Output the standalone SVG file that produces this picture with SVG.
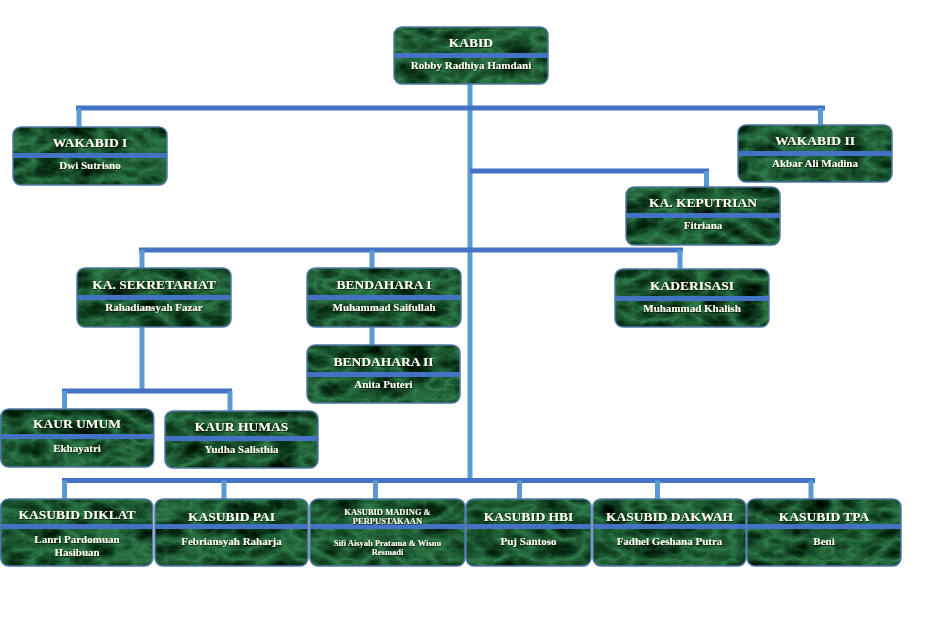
<svg xmlns="http://www.w3.org/2000/svg" width="952" height="639" viewBox="0 0 952 639">
<style>
.box{filter:url(#marble);}
.edge{fill:none;stroke:#4f78a8;stroke-width:1.5;}
.band{fill:#4472c4;}
.t{font-family:"Liberation Serif","Times New Roman",serif;font-weight:bold;fill:#fffff2;text-anchor:middle;filter:url(#sh);}
.ti{font-size:13.5px;}
.nm{font-size:11px;}
.sm{font-size:8.5px;}
.h{stroke:#4472c4;stroke-width:5;fill:none;}
.v{stroke:#5b9bd5;stroke-width:5;fill:none;}
</style>
<defs>
<filter id="marble" x="0" y="0" width="100%" height="100%" color-interpolation-filters="sRGB">
<feTurbulence type="turbulence" baseFrequency="0.03 0.05" numOctaves="4" seed="11" result="n"/>
<feColorMatrix in="n" type="matrix" values="-0.3 0 0 0 0.2  -0.6 0 0 0 0.52  -0.4 0 0 0 0.31  0 0 0 0 1" result="c"/>
<feComposite in="c" in2="SourceGraphic" operator="in"/>
</filter>
<filter id="sh" x="-10%" y="-30%" width="120%" height="160%">
<feDropShadow dx="0.6" dy="0.8" stdDeviation="0.4" flood-color="#000" flood-opacity="0.8"/>
</filter>
</defs>
<rect width="952" height="639" fill="#ffffff"/>

<g id="connectors">
<line class="v" x1="470" y1="84" x2="470" y2="483"/>
<line class="h" x1="76" y1="108" x2="825" y2="108"/>
<line class="v" x1="79" y1="108" x2="79" y2="127"/>
<line class="v" x1="820.5" y1="108" x2="820.5" y2="125"/>
<line class="h" x1="470" y1="171" x2="709" y2="171"/>
<line class="v" x1="706.5" y1="171" x2="706.5" y2="187"/>
<line class="h" x1="139" y1="250" x2="683" y2="250"/>
<line class="v" x1="142" y1="250" x2="142" y2="268"/>
<line class="v" x1="372" y1="250" x2="372" y2="268"/>
<line class="v" x1="680" y1="250" x2="680" y2="269"/>
<line class="v" x1="372" y1="327" x2="372" y2="345"/>
<line class="v" x1="142" y1="327" x2="142" y2="391"/>
<line class="h" x1="62" y1="391" x2="232" y2="391"/>
<line class="v" x1="64.5" y1="391" x2="64.5" y2="409"/>
<line class="v" x1="230" y1="391" x2="230" y2="411"/>
<line class="h" x1="62" y1="480.5" x2="815" y2="480.5"/>
<line class="v" x1="64.5" y1="480.5" x2="64.5" y2="499"/>
<line class="v" x1="224" y1="480.5" x2="224" y2="499"/>
<line class="v" x1="375.5" y1="480.5" x2="375.5" y2="499"/>
<line class="v" x1="519.5" y1="480.5" x2="519.5" y2="499"/>
<line class="v" x1="657.5" y1="480.5" x2="657.5" y2="499"/>
<line class="v" x1="811" y1="480.5" x2="811" y2="499"/>
</g>

<g id="kabid">
<rect class="box" x="394" y="27" width="154" height="57" rx="8"/>
<rect class="band" x="394" y="53" width="154" height="5"/>
<rect class="edge" x="394" y="27" width="154" height="57" rx="8"/>
<text class="t ti" x="471" y="47">KABID</text>
<text class="t nm" x="471" y="69">Robby Radhiya Hamdani</text>
</g>

<g id="wakabid1">
<rect class="box" x="13" y="127" width="154" height="58" rx="8"/>
<rect class="band" x="13" y="153" width="154" height="5"/>
<rect class="edge" x="13" y="127" width="154" height="58" rx="8"/>
<text class="t ti" x="90" y="147">WAKABID I</text>
<text class="t nm" x="90" y="169">Dwi Sutrisno</text>
</g>

<g id="wakabid2">
<rect class="box" x="738" y="125" width="154" height="57" rx="8"/>
<rect class="band" x="738" y="151" width="154" height="5"/>
<rect class="edge" x="738" y="125" width="154" height="57" rx="8"/>
<text class="t ti" x="815" y="145">WAKABID II</text>
<text class="t nm" x="815" y="167">Akbar Ali Madina</text>
</g>

<g id="keputrian">
<rect class="box" x="626" y="187" width="154" height="58" rx="8"/>
<rect class="band" x="626" y="213" width="154" height="5"/>
<rect class="edge" x="626" y="187" width="154" height="58" rx="8"/>
<text class="t ti" x="703" y="207">KA. KEPUTRIAN</text>
<text class="t nm" x="703" y="229">Fitriana</text>
</g>

<g id="sekretariat">
<rect class="box" x="77" y="268" width="154" height="59" rx="8"/>
<rect class="band" x="77" y="295" width="154" height="5"/>
<rect class="edge" x="77" y="268" width="154" height="59" rx="8"/>
<text class="t ti" x="154" y="289">KA. SEKRETARIAT</text>
<text class="t nm" x="154" y="311">Rahadiansyah Fazar</text>
</g>

<g id="bendahara1">
<rect class="box" x="307" y="268" width="154" height="59" rx="8"/>
<rect class="band" x="307" y="295" width="154" height="5"/>
<rect class="edge" x="307" y="268" width="154" height="59" rx="8"/>
<text class="t ti" x="384" y="289">BENDAHARA I</text>
<text class="t nm" x="384" y="311">Muhammad Saifullah</text>
</g>

<g id="bendahara2">
<rect class="box" x="307" y="345" width="153" height="58" rx="8"/>
<rect class="band" x="307" y="372" width="153" height="5"/>
<rect class="edge" x="307" y="345" width="153" height="58" rx="8"/>
<text class="t ti" x="383.5" y="366">BENDAHARA II</text>
<text class="t nm" x="383.5" y="388">Anita Puteri</text>
</g>

<g id="kaderisasi">
<rect class="box" x="615" y="269" width="154" height="58" rx="8"/>
<rect class="band" x="615" y="296" width="154" height="5"/>
<rect class="edge" x="615" y="269" width="154" height="58" rx="8"/>
<text class="t ti" x="692" y="290">KADERISASI</text>
<text class="t nm" x="692" y="312">Muhammad Khalish</text>
</g>

<g id="kaur-umum">
<rect class="box" x="0.75" y="409" width="153" height="58" rx="8"/>
<rect class="band" x="0.75" y="434" width="153" height="5"/>
<rect class="edge" x="0.75" y="409" width="153" height="58" rx="8"/>
<text class="t ti" x="77" y="428">KAUR UMUM</text>
<text class="t nm" x="77" y="452">Ekhayatri</text>
</g>

<g id="kaur-humas">
<rect class="box" x="165" y="411" width="153" height="57" rx="8"/>
<rect class="band" x="165" y="436" width="153" height="5"/>
<rect class="edge" x="165" y="411" width="153" height="57" rx="8"/>
<text class="t ti" x="241.5" y="431">KAUR HUMAS</text>
<text class="t nm" x="241.5" y="453">Yudha Salisthia</text>
</g>

<g id="kasubid-diklat">
<rect class="box" x="0.75" y="499" width="152" height="67" rx="8"/>
<rect class="band" x="0.75" y="524" width="152" height="5"/>
<rect class="edge" x="0.75" y="499" width="152" height="67" rx="8"/>
<text class="t ti" x="77" y="519">KASUBID DIKLAT</text>
<text class="t nm" x="77" y="543">Lanri Pardomuan</text>
<text class="t nm" x="77" y="556">Hasibuan</text>
</g>

<g id="kasubid-pai">
<rect class="box" x="155" y="499" width="153" height="67" rx="8"/>
<rect class="band" x="155" y="524" width="153" height="5"/>
<rect class="edge" x="155" y="499" width="153" height="67" rx="8"/>
<text class="t ti" x="231.5" y="521">KASUBID PAI</text>
<text class="t nm" x="231.5" y="545">Febriansyah Raharja</text>
</g>

<g id="kasubid-mading">
<rect class="box" x="310" y="499" width="155" height="67" rx="8"/>
<rect class="band" x="310" y="524" width="155" height="5"/>
<rect class="edge" x="310" y="499" width="155" height="67" rx="8"/>
<text class="t sm" x="387.5" y="515">KASUBID MADING &amp;</text>
<text class="t sm" x="387.5" y="524">PERPUSTAKAAN</text>
<text class="t sm" x="387.5" y="546">Sifi Aisyah Pratama &amp; Wisnu</text>
<text class="t sm" x="387.5" y="555">Resmadi</text>
</g>

<g id="kasubid-hbi">
<rect class="box" x="466" y="499" width="125" height="67" rx="8"/>
<rect class="band" x="466" y="524" width="125" height="5"/>
<rect class="edge" x="466" y="499" width="125" height="67" rx="8"/>
<text class="t ti" x="528.5" y="521">KASUBID HBI</text>
<text class="t nm" x="528.5" y="545">Puj Santoso</text>
</g>

<g id="kasubid-dakwah">
<rect class="box" x="593" y="499" width="153" height="67" rx="8"/>
<rect class="band" x="593" y="524" width="153" height="5"/>
<rect class="edge" x="593" y="499" width="153" height="67" rx="8"/>
<text class="t ti" x="669.5" y="521">KASUBID DAKWAH</text>
<text class="t nm" x="669.5" y="545">Fadhel Geshana Putra</text>
</g>

<g id="kasubid-tpa">
<rect class="box" x="747" y="499" width="154" height="67" rx="8"/>
<rect class="band" x="747" y="524" width="154" height="5"/>
<rect class="edge" x="747" y="499" width="154" height="67" rx="8"/>
<text class="t ti" x="824" y="521">KASUBID TPA</text>
<text class="t nm" x="824" y="545">Beni</text>
</g>
</svg>
